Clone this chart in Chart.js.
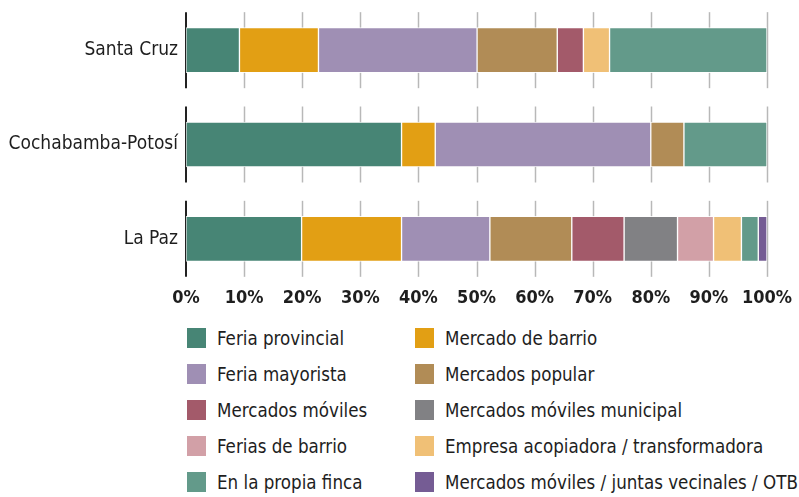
<!DOCTYPE html>
<html>
<head>
<meta charset="utf-8">
<script src="https://cdn.jsdelivr.net/npm/chart.js@4.4.0/dist/chart.umd.min.js"></script>
<style>
  html, body { margin: 0; padding: 0; background: #fff; }
  body { width: 799px; height: 497px; position: relative; overflow: hidden;
         font-family: 'DejaVu Sans Condensed', 'DejaVu Sans', sans-serif; font-stretch: condensed; color: #1e1e1e; }
  #chart-box { position: absolute; left: 0; top: 0; width: 799px; height: 320px; }
  #legend { position: absolute; left: 187px; top: 328px; }
  .item { position: absolute; display: flex; align-items: center; height: 20px; white-space: nowrap; font-size: 18.6px; }
  .swatch { width: 19px; height: 20px; margin-right: 11px; flex: none; }
</style>
</head>
<body>
<div id="chart-box"><canvas id="market-chart"></canvas></div>
<div id="legend"></div>
<script>
// Categories (top to bottom)
const regions = ['Santa Cruz', 'Cochabamba-Potosí', 'La Paz'];

// Share of each sales channel, % (Santa Cruz, Cochabamba-Potosí, La Paz)
const feriaProvincial = [9.2, 37.1, 19.9];
const mercadoBarrio = [13.6, 5.8, 17.2];
const feriaMayorista = [27.3, 37.1, 15.2];
const mercadosPopular = [13.8, 5.7, 14.1];
const mercadosMoviles = [4.5, null, 9.0];
const movilesMunicipal = [null, null, 9.2];
const feriasBarrio = [null, null, 6.2];
const empresaAcopiadora = [4.5, null, 4.8];
const propiaFinca = [27.1, 14.3, 2.9];
const movilesOTB = [null, null, 1.5];

const xTicks = [0, 10, 20, 30, 40, 50, 60, 70, 80, 90, 100];

const series = [
  { label: 'Feria provincial', data: feriaProvincial, color: '#478575' },
  { label: 'Mercado de barrio', data: mercadoBarrio, color: '#e29f14' },
  { label: 'Feria mayorista', data: feriaMayorista, color: '#9f8fb4' },
  { label: 'Mercados popular', data: mercadosPopular, color: '#b18c56' },
  { label: 'Mercados móviles', data: mercadosMoviles, color: '#a35a6a' },
  { label: 'Mercados móviles municipal', data: movilesMunicipal, color: '#818184' },
  { label: 'Ferias de barrio', data: feriasBarrio, color: '#d2a0a7' },
  { label: 'Empresa acopiadora / transformadora', data: empresaAcopiadora, color: '#f0c076' },
  { label: 'En la propia finca', data: propiaFinca, color: '#639a8a' },
  { label: 'Mercados móviles / juntas vecinales / OTB', data: movilesOTB, color: '#755c94' }
];

// canvas font shorthand: put the stretch keyword in with the weight
const FONT = "'DejaVu Sans Condensed', 'DejaVu Sans', sans-serif";

// grid drawn in pieces, one per region band
const bandGrid = {
  id: 'bandGrid',
  beforeDatasetsDraw(chart) {
    const { ctx, scales: { x, y } } = chart;
    ctx.save();
    regions.forEach((r, i) => {
      const cy = y.getPixelForValue(i);
      const y0 = cy - 38, y1 = cy + 38;
      ctx.strokeStyle = '#b8b8b8';
      ctx.lineWidth = 1.5;
      xTicks.forEach(t => {
        if (t === 0) return;
        const px = Math.round(x.getPixelForValue(t)) + 0.5;
        ctx.beginPath();
        ctx.moveTo(px, y0);
        ctx.lineTo(px, y1);
        ctx.stroke();
      });
      ctx.strokeStyle = '#222';
      ctx.lineWidth = 2;
      const px0 = x.getPixelForValue(0);
      ctx.beginPath();
      ctx.moveTo(px0, y0);
      ctx.lineTo(px0, y1);
      ctx.stroke();
    });
    ctx.restore();
  }
};

function drawChart() {
  const ctx = document.getElementById('market-chart').getContext('2d');
  new Chart(ctx, {
    type: 'bar',
    data: {
      labels: regions,
      datasets: series.map(s => ({
        label: s.label,
        data: s.data,
        backgroundColor: s.color,
        borderColor: 'rgba(255,255,255,0.85)',
        borderWidth: 1,
        borderSkipped: false,
        barThickness: 45
      }))
    },
    options: {
      indexAxis: 'y',
      responsive: true,
      maintainAspectRatio: false,
      animation: false,
      layout: { padding: { top: 3, right: 32, left: 0, bottom: 0 } },
      plugins: {
        legend: { display: false },
        tooltip: { enabled: false }
      },
      scales: {
        x: {
          stacked: true,
          min: 0,
          max: 100,
          afterBuildTicks: axis => { axis.ticks = xTicks.map(v => ({ value: v })); },
          grid: { display: false, drawTicks: false },
          border: { display: false },
          ticks: {
            padding: 2,
            maxRotation: 0,
            autoSkip: false,
            color: '#1e1e1e',
            font: { family: FONT, size: 18, weight: 'condensed bold' },
            callback: v => v + '%'
          },
          afterFit: axis => { axis.height = 34; }
        },
        y: {
          stacked: true,
          grid: { display: false, drawTicks: false },
          border: { display: false },
          ticks: {
            padding: 8,
            color: '#1e1e1e',
            font: { family: FONT, size: 19, weight: 'condensed normal' }
          },
          afterFit: axis => {
            axis.width = 186;
            axis.paddingTop = 0;
            axis.paddingBottom = 0;
          }
        }
      }
    },
    plugins: [bandGrid]
  });
}

document.fonts.load("19px 'DejaVu Sans Condensed'").then(drawChart, drawChart);

// legend in two columns, same order as the datasets
const legend = document.getElementById('legend');
series.forEach((s, i) => {
  const item = document.createElement('div');
  item.className = 'item';
  item.style.left = (i % 2 === 0 ? 0 : 228) + 'px';
  item.style.top = (Math.floor(i / 2) * 36) + 'px';
  const sw = document.createElement('span');
  sw.className = 'swatch';
  sw.style.background = s.color;
  const tx = document.createElement('span');
  tx.textContent = s.label;
  item.appendChild(sw);
  item.appendChild(tx);
  legend.appendChild(item);
});
</script>
</body>
</html>
